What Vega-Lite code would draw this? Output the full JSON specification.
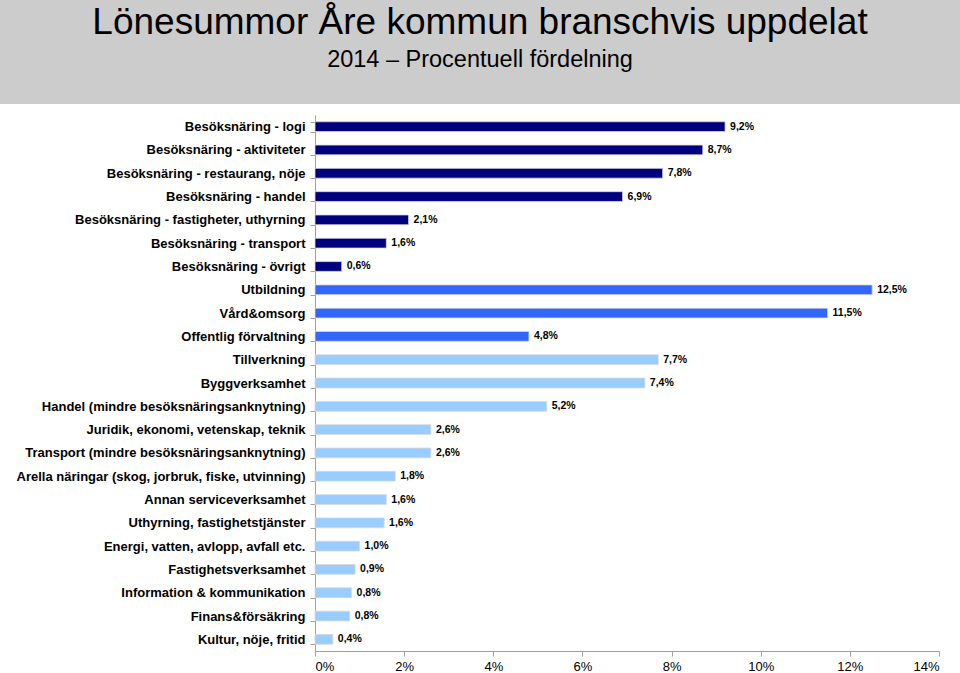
{
  "$schema": "https://vega.github.io/schema/vega-lite/v6.json",
  "padding": 0,
  "background": "white",
  "spacing": 5,
  "config": {"font": "Liberation Sans", "view": {"stroke": null}},
  "vconcat": [
    {
      "width": 960,
      "height": 104,
      "view": {"fill": "#cccccc", "stroke": null},
      "title": {
        "text": "Lönesummor Åre kommun branschvis uppdelat",
        "subtitle": "2014 – Procentuell fördelning",
        "font": "Liberation Sans",
        "fontSize": 37,
        "fontWeight": "normal",
        "color": "black",
        "subtitleFont": "Liberation Sans",
        "subtitleFontSize": 23.5,
        "subtitleColor": "black",
        "subtitlePadding": 6,
        "anchor": "middle",
        "frame": "group",
        "offset": -72
      },
      "data": {"values": []},
      "mark": "point"
    },
    {
      "width": 960,
      "height": 536,
      "data": {
        "values": [
          {"cat": "Besöksnäring - logi", "value": 9.2, "label": "9,2%", "group": "Besöksnäring"},
          {"cat": "Besöksnäring - aktiviteter", "value": 8.7, "label": "8,7%", "group": "Besöksnäring"},
          {"cat": "Besöksnäring - restaurang, nöje", "value": 7.8, "label": "7,8%", "group": "Besöksnäring"},
          {"cat": "Besöksnäring - handel", "value": 6.9, "label": "6,9%", "group": "Besöksnäring"},
          {"cat": "Besöksnäring - fastigheter, uthyrning", "value": 2.1, "label": "2,1%", "group": "Besöksnäring"},
          {"cat": "Besöksnäring - transport", "value": 1.6, "label": "1,6%", "group": "Besöksnäring"},
          {"cat": "Besöksnäring - övrigt", "value": 0.6, "label": "0,6%", "group": "Besöksnäring"},
          {"cat": "Utbildning", "value": 12.5, "label": "12,5%", "group": "Offentlig"},
          {"cat": "Vård&omsorg", "value": 11.5, "label": "11,5%", "group": "Offentlig"},
          {"cat": "Offentlig förvaltning", "value": 4.8, "label": "4,8%", "group": "Offentlig"},
          {"cat": "Tillverkning", "value": 7.7, "label": "7,7%", "group": "Övrigt"},
          {"cat": "Byggverksamhet", "value": 7.4, "label": "7,4%", "group": "Övrigt"},
          {"cat": "Handel (mindre besöksnäringsanknytning)", "value": 5.2, "label": "5,2%", "group": "Övrigt"},
          {"cat": "Juridik, ekonomi, vetenskap, teknik", "value": 2.6, "label": "2,6%", "group": "Övrigt"},
          {"cat": "Transport (mindre besöksnäringsanknytning)", "value": 2.6, "label": "2,6%", "group": "Övrigt"},
          {"cat": "Arella näringar (skog, jorbruk, fiske, utvinning)", "value": 1.8, "label": "1,8%", "group": "Övrigt"},
          {"cat": "Annan serviceverksamhet", "value": 1.6, "label": "1,6%", "group": "Övrigt"},
          {"cat": "Uthyrning, fastighetstjänster", "value": 1.55, "label": "1,6%", "group": "Övrigt"},
          {"cat": "Energi, vatten, avlopp, avfall etc.", "value": 1.0, "label": "1,0%", "group": "Övrigt"},
          {"cat": "Fastighetsverksamhet", "value": 0.9, "label": "0,9%", "group": "Övrigt"},
          {"cat": "Information & kommunikation", "value": 0.82, "label": "0,8%", "group": "Övrigt"},
          {"cat": "Finans&försäkring", "value": 0.78, "label": "0,8%", "group": "Övrigt"},
          {"cat": "Kultur, nöje, fritid", "value": 0.4, "label": "0,4%", "group": "Övrigt"}
        ]
      },
      "encoding": {
        "y": {
          "field": "cat",
          "type": "nominal",
          "sort": null,
          "scale": {"paddingInner": 0.58, "paddingOuter": 0.29},
          "axis": {
            "title": null,
            "offset": -315,
            "labelFont": "Liberation Sans",
            "labelFontSize": 13,
            "labelFontWeight": "bold",
            "labelColor": "black",
            "labelLimit": 400,
            "labelPadding": 5,
            "tickSize": 5,
            "tickColor": "#a0a0a0",
            "domainColor": "#a0a0a0",
            "tickBand": "extent"
          }
        },
        "x": {
          "field": "value",
          "type": "quantitative",
          "scale": {"domain": [0, 14], "nice": false, "range": [315, 939]},
          "axis": {
            "title": null,
            "grid": false,
            "values": [0, 2, 4, 6, 8, 10, 12, 14],
            "labelExpr": "datum.value + '%'",
            "labelFont": "Liberation Sans",
            "labelFontSize": 13,
            "labelColor": "black",
            "labelPadding": 4,
            "tickSize": 5,
            "tickColor": "#a0a0a0",
            "domainColor": "#a0a0a0"
          }
        }
      },
      "layer": [
        {
          "mark": {"type": "bar", "stroke": "#d8d8d8", "strokeWidth": 0.8},
          "encoding": {
            "color": {
              "field": "group",
              "type": "nominal",
              "scale": {"domain": ["Besöksnäring", "Offentlig", "Övrigt"], "range": ["#00007f", "#3366ff", "#99ccff"]},
              "legend": null
            }
          }
        },
        {
          "mark": {"type": "text", "align": "left", "baseline": "middle", "dx": 5, "font": "Liberation Sans", "fontSize": 10.5, "fontWeight": "bold", "color": "black"},
          "encoding": {"text": {"field": "label"}}
        }
      ]
    }
  ]
}
